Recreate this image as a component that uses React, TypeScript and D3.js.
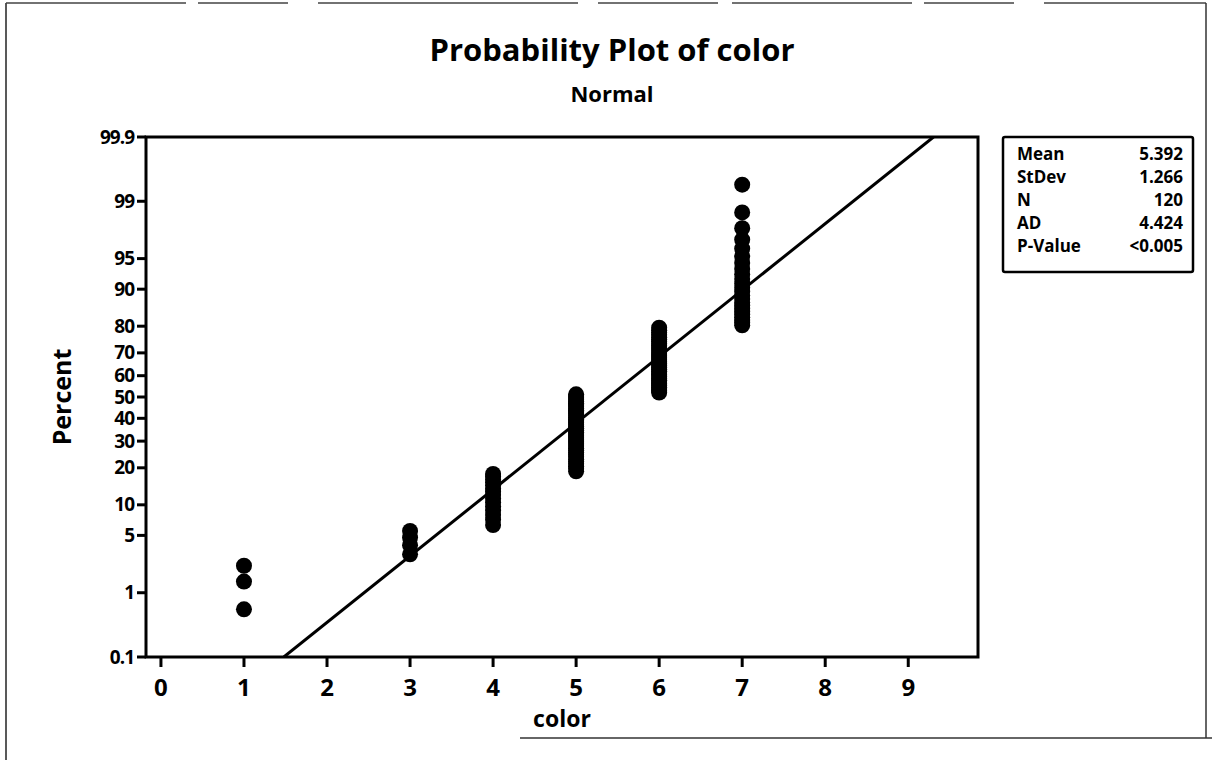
import React from "react";
import * as d3 from "d3";

// ---- data ----
const colorValues = [1, 3, 4, 5, 6, 7];
const colorCounts = [3, 4, 15, 40, 34, 24];
const xTicks = [0, 1, 2, 3, 4, 5, 6, 7, 8, 9];
const yTicks = [0.1, 1, 5, 10, 20, 30, 40, 50, 60, 70, 80, 90, 95, 99, 99.9];
const statLabels = ["Mean", "StDev", "N", "AD", "P-Value"];
const statValues = ["5.392", "1.266", "120", "4.424", "<0.005"];
const fitMean = 5.392;
const fitSd = 1.266;

// inverse normal CDF (Acklam)
function normInv(p: number): number {
  const a = [-3.969683028665376e1, 2.209460984245205e2, -2.759285104469687e2, 1.38357751867269e2, -3.066479806614716e1, 2.506628277459239];
  const b = [-5.447609879822406e1, 1.615858368580409e2, -1.556989798598866e2, 6.680131188771972e1, -1.328068155288572e1];
  const c = [-7.784894002430293e-3, -3.223964580411365e-1, -2.400758277161838, -2.549732539343734, 4.374664141464968, 2.938163982698783];
  const d = [7.784695709041462e-3, 3.224671290700398e-1, 2.445134137142996, 3.754408661907416];
  const pl = 0.02425;
  let q, r;
  if (p < pl) {
    q = Math.sqrt(-2 * Math.log(p));
    return (((((c[0] * q + c[1]) * q + c[2]) * q + c[3]) * q + c[4]) * q + c[5]) / ((((d[0] * q + d[1]) * q + d[2]) * q + d[3]) * q + 1);
  } else if (p <= 1 - pl) {
    q = p - 0.5;
    r = q * q;
    return ((((((a[0] * r + a[1]) * r + a[2]) * r + a[3]) * r + a[4]) * r + a[5]) * q) / (((((b[0] * r + b[1]) * r + b[2]) * r + b[3]) * r + b[4]) * r + 1);
  } else {
    q = Math.sqrt(-2 * Math.log(1 - p));
    return -(((((c[0] * q + c[1]) * q + c[2]) * q + c[3]) * q + c[4]) * q + c[5]) / ((((d[0] * q + d[1]) * q + d[2]) * q + d[3]) * q + 1);
  }
}

const W = 1212;
const H = 760;
const L = 146, R = 978, T = 137, B = 657;
const FONT = "'Open Sans', 'DejaVu Sans', sans-serif";

export default function App() {
  const x = d3.scaleLinear().domain([-0.18, 9.84]).range([L, R]);
  const y = d3.scaleLinear().domain([normInv(0.001), normInv(0.999)]).range([B, T]);

  // expand data & median-rank plotting positions
  const sorted: number[] = [];
  colorValues.forEach((v, i) => {
    for (let k = 0; k < colorCounts[i]; k++) sorted.push(v);
  });
  const n = sorted.length;
  const pts = sorted.map((v, i) => ({ v, p: (i + 1 - 0.3) / (n + 0.4) }));

  // fitted line, clipped to plot
  const x0 = fitMean + fitSd * normInv(0.001);
  const x1 = fitMean + fitSd * normInv(0.999);
  const lineGen = d3.line<number>().x((v) => x(v)).y((v) => y((v - fitMean) / fitSd));
  const linePath = lineGen([x0, x1]) || "";

  const boxL = 1003, boxT = 137, boxR = 1193, boxB = 272;

  return (
    <svg width={W} height={H} style={{ position: "absolute", left: 0, top: 0, background: "#fff" }} fontFamily={FONT}>
      <rect x={0} y={0} width={W} height={H} fill="#fff" />
      {/* outer frame */}
      <line x1={6} y1={3} x2={6} y2={760} stroke="#222" strokeWidth={1.5} />
      <line x1={6} y1={3} x2={1206} y2={3} stroke="#444" strokeWidth={1.5} strokeDasharray="180 12 90 30 260 20 120 14" />
      <line x1={1206} y1={3} x2={1206} y2={738} stroke="#333" strokeWidth={1.5} />
      <line x1={520} y1={738} x2={1212} y2={738} stroke="#333" strokeWidth={1.5} />

      {/* titles */}
      <text x={612} y={61} textAnchor="middle" fontSize={31} fontWeight="bold">Probability Plot of color</text>
      <text x={612} y={102} textAnchor="middle" fontSize={22} fontWeight="bold">Normal</text>

      {/* fit line */}
      <clipPath id="plotclip">
        <rect x={L} y={T} width={R - L} height={B - T} />
      </clipPath>
      <path d={linePath} stroke="#000" strokeWidth={3} fill="none" clipPath="url(#plotclip)" />

      {/* points */}
      {pts.map((d, i) => (
        <circle key={i} cx={x(d.v)} cy={y(normInv(d.p))} r={8} fill="#000" />
      ))}

      {/* plot frame */}
      <rect x={L} y={T} width={R - L} height={B - T} fill="none" stroke="#000" strokeWidth={3} />

      {/* y ticks */}
      {yTicks.map((t) => {
        const yy = y(normInv(t / 100));
        return (
          <g key={t}>
            <line x1={L - 9} x2={L} y1={yy} y2={yy} stroke="#000" strokeWidth={3} />
            <text x={L - 12} y={yy + 6.5} textAnchor="end" fontSize={19} fontWeight="bold" letterSpacing={-1}>{String(t)}</text>
          </g>
        );
      })}

      {/* x ticks */}
      {xTicks.map((t) => (
        <g key={t}>
          <line x1={x(t)} x2={x(t)} y1={B} y2={B + 10} stroke="#000" strokeWidth={3} />
          <text x={x(t)} y={696} textAnchor="middle" fontSize={24} fontWeight="bold">{t}</text>
        </g>
      ))}

      {/* axis labels */}
      <text x={562} y={727} textAnchor="middle" fontSize={23} fontWeight="bold">color</text>
      <text transform={`translate(71, ${y(0)}) rotate(-90)`} textAnchor="middle" fontSize={25} fontWeight="bold">Percent</text>

      {/* stats box */}
      <rect x={boxL} y={boxT} width={boxR - boxL} height={boxB - boxT} fill="#fff" stroke="#000" strokeWidth={2.5} rx={2} />
      {statLabels.map((s, i) => (
        <g key={s}>
          <text x={boxL + 14} y={boxT + 23 + i * 23} fontSize={17} fontWeight="bold">{s}</text>
          <text x={boxR - 10} y={boxT + 23 + i * 23} textAnchor="end" fontSize={17} fontWeight="bold">{statValues[i]}</text>
        </g>
      ))}
    </svg>
  );
}
